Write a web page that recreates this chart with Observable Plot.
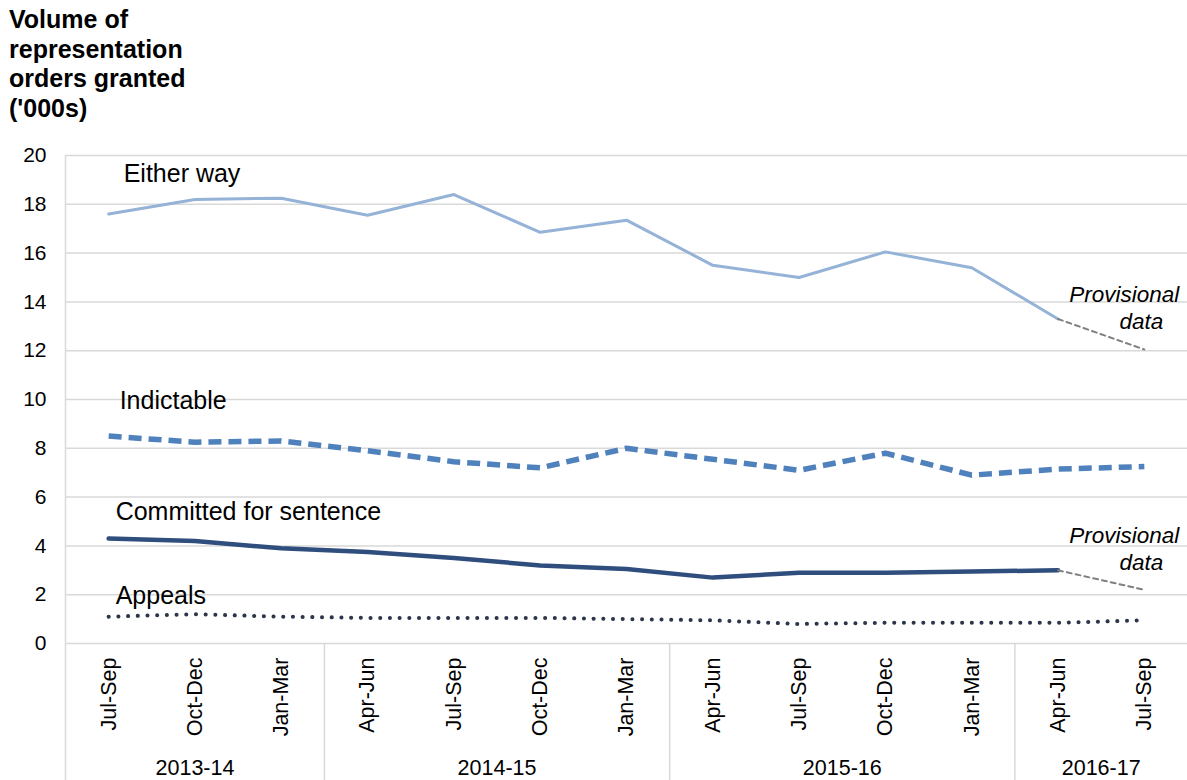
<!DOCTYPE html>
<html>
<head>
<meta charset="utf-8">
<script src="https://cdn.jsdelivr.net/npm/d3@7"></script>
<script src="https://cdn.jsdelivr.net/npm/@observablehq/plot@0.6"></script>
<style>
  html, body { margin: 0; padding: 0; background: #fff; }
  body { font-family: "Liberation Sans", Arial, sans-serif; width: 1187px; height: 780px; overflow: hidden; }
  #title { height: 130px; box-sizing: border-box; padding: 5px 0 0 9px; font-weight: bold; font-size: 25px; line-height: 29.5px; color: #000; }
  #chart svg { display: block; }
</style>
</head>
<body>
<div id="title">Volume of<br>representation<br>orders granted<br>('000s)</div>
<div id="chart"></div>
<script>
// Quarter tick labels and financial years
const quarters = ["Jul-Sep","Oct-Dec","Jan-Mar","Apr-Jun","Jul-Sep","Oct-Dec","Jan-Mar","Apr-Jun","Jul-Sep","Oct-Dec","Jan-Mar","Apr-Jun","Jul-Sep"];
const years = ["2013-14","2014-15","2015-16","2016-17"];
const yearFirst = [0, 3, 7, 11];
const yearLast = [2, 6, 10, 12];
const yTicks = [0, 2, 4, 6, 8, 10, 12, 14, 16, 18, 20];

// Series values ('000s)
const eitherWay   = [17.6, 18.2, 18.25, 17.55, 18.4, 16.85, 17.35, 15.5, 15.0, 16.05, 15.4, 13.3, 12.05];
const indictable  = [8.5, 8.25, 8.3, 7.9, 7.45, 7.2, 8.0, 7.55, 7.1, 7.8, 6.9, 7.15, 7.25];
const committed   = [4.3, 4.2, 3.9, 3.75, 3.5, 3.2, 3.05, 2.7, 2.9, 2.9, 2.95, 3.0, 2.2];
const appeals     = [1.1, 1.2, 1.1, 1.05, 1.05, 1.05, 1.0, 0.95, 0.8, 0.85, 0.85, 0.85, 0.95];
// index from which a series' last segment is provisional (null = none)
const provisionalFrom = {"Either way": 11, "Indictable": null, "Committed for sentence": 11, "Appeals": null};

const seriesNames = ["Either way", "Indictable", "Committed for sentence", "Appeals"];
const seriesValues = [eitherWay, indictable, committed, appeals];
const seriesColors = ["#95b3d7", "#4f81bd", "#2f4e7e", "#2b364a"];
const seriesWidths = [3, 5.5, 4.5, 4];
const seriesDash = [null, "13 7", null, "0.1 9.6"];
const seriesLabelY = [19.25, 9.95, 5.4, 1.95];
const seriesLabelDx = [15, 11, 7, 7];

const provLabelY = [[14.3, 13.2], [4.4, 3.3]];

function rows(name, vals) {
  const p = provisionalFrom[name];
  return vals.map((v, i) => ({name, i, v})).filter(d => p == null || d.i <= p);
}
function provRows(name, vals) {
  const p = provisionalFrom[name];
  if (p == null) return [];
  return vals.map((v, i) => ({name, i, v})).filter(d => d.i >= p);
}

const lineMarks = [];
const provMarks = [];
seriesNames.forEach((name, k) => {
  const opts = {x: "i", y: "v", stroke: seriesColors[k], strokeWidth: seriesWidths[k], strokeLinejoin: "round"};
  if (seriesDash[k]) { opts.strokeDasharray = seriesDash[k]; opts.strokeLinecap = "round"; }
  if (k === 1) opts.strokeLinecap = "butt";
  lineMarks.push(Plot.line(rows(name, seriesValues[k]), opts));
  const pr = provRows(name, seriesValues[k]);
  if (pr.length) provMarks.push(Plot.line(pr, {x: "i", y: "v", stroke: "#808080", strokeWidth: 2, strokeDasharray: "5 4"}));
});

const labels = seriesNames.map((name, k) => ({name, i: 0, v: seriesLabelY[k], dx: seriesLabelDx[k]}));
const provLabels = [];
provLabelY.forEach(([a, b]) => {
  provLabels.push({t: "Provisional", i: 12, v: a, dx: -20});
  provLabels.push({t: "data", i: 12, v: b, dx: -3});
});

const yearRows = years.map((y, k) => ({y, mid: (yearFirst[k] + yearLast[k]) / 2}));
const seps = yearFirst.slice(1).map(f => f - 0.5);

const chart = Plot.plot({
  width: 1187,
  height: 650,
  marginTop: 25,
  marginBottom: 137,
  marginLeft: 65,
  marginRight: 0,
  style: {fontFamily: "'Liberation Sans', Arial, sans-serif", fontSize: "21px", color: "#000", background: "#fff"},
  x: {domain: [-0.5, 12.5], axis: null},
  y: {domain: [0, 20], axis: null},
  marks: [
    Plot.ruleY(yTicks, {stroke: "#d9d9d9", strokeWidth: 1.5}),
    Plot.ruleX([-0.5], {stroke: "#d9d9d9", strokeWidth: 1.5, insetBottom: -137}),
    Plot.ruleX(seps, {stroke: "#d9d9d9", strokeWidth: 1.5, insetTop: 488, insetBottom: -137}),
    ...lineMarks,
    ...provMarks,
    Plot.axisY({ticks: yTicks, tickSize: 0, tickPadding: 19, fontSize: 21, label: null}),
    Plot.axisX({ticks: d3.range(quarters.length), tickFormat: i => quarters[i], tickRotate: -90, tickSize: 0, tickPadding: 14, fontSize: 21.5, label: null}),
    Plot.text(yearRows, {x: "mid", text: "y", frameAnchor: "bottom", dy: 131, fontSize: 21.5}),
    ...labels.map(d => Plot.text([d], {x: "i", y: "v", text: "name", dx: d.dx, textAnchor: "start", fontSize: 25})),
    ...provLabels.map(d => Plot.text([d], {x: "i", y: "v", text: "t", dx: d.dx, fontSize: 22.5, fontStyle: "italic"}))
  ]
});
document.getElementById("chart").appendChild(chart);
</script>
</body>
</html>
